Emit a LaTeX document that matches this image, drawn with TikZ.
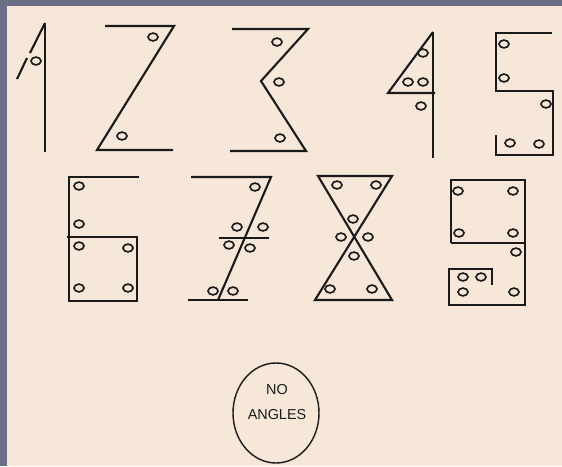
\documentclass[tikz,border=0pt]{standalone}
\usepackage{fontspec}
\setmainfont{Liberation Sans}
\usetikzlibrary{shapes.geometric}
\definecolor{cpaper}{HTML}{F6E7D9}
\definecolor{cframe}{HTML}{6A6E87}
\definecolor{cink}{HTML}{1A1A1A}
\tikzset{
  every picture/.style={line width=1.8pt, line join=miter},
  stroke/.style={draw=cink},
  hole/.style={draw=cink, line width=1.4pt},
  oval/.style={ellipse, draw=cink, line width=1.2pt, minimum width=2.58cm, minimum height=3.0cm, inner sep=0pt},
  caption/.style={font=\fontsize{12.3pt}{21pt}\selectfont, text=cink, align=center},
}
\newcommand{\holes}[1]{\foreach \p in {#1} \draw[hole] \p ellipse (5 and 3.9);}

\begin{document}
\begin{tikzpicture}[x=0.03cm, y=-0.03cm]
  % paper and frame
  \fill[cframe] (0,0) rectangle (562,466);
  \fill[cpaper] (7,6) rectangle (562,466);
  \useasboundingbox (0,0) rectangle (562,466);
  % 1
  \draw[stroke] (45,23) -- (45,152);
  \draw[stroke] (45,23) -- (30,53);
  \draw[stroke] (27,58) -- (17,79);
  \holes{(36,61)}
  % 2
  \draw[stroke] (105,26) -- (174,26) -- (97,150) -- (173,150);
  \holes{(153,37),(122,136)}
  % 3
  \draw[stroke] (232,29) -- (308,29) -- (261,81) -- (306,151) -- (230,151);
  \holes{(277,42),(279,82),(280,138)}
  % 4
  \draw[stroke] (433,32) -- (433,158);
  \draw[stroke] (433,32) -- (388,93) -- (435,93);
  \holes{(423,53),(408,82),(423,82),(421,106)}
  % 5
  \draw[stroke] (552,33) -- (496,33) -- (496,91) -- (553,91) -- (553,155) -- (496,155) -- (496,135);
  \holes{(504,44),(504,78),(546,104),(510,143),(539,144)}
  % 6
  \draw[stroke] (139,177) -- (69,177) -- (69,301) -- (137,301) -- (137,237) -- (67,237);
  \holes{(79,186),(79,224),(79,246),(128,248),(79,288),(128,288)}
  % 7
  \draw[stroke] (191,177) -- (271,177) -- (218,300);
  \draw[stroke] (188,300) -- (248,300);
  \draw[stroke] (219,238) -- (269,238);
  \holes{(255,187),(237,227),(263,227),(229,245),(250,248),(213,291),(233,291)}
  % 8
  \draw[stroke] (318,176) -- (392,176) -- (315,300) -- (392,300) -- cycle;
  \holes{(337,185),(376,185),(353,219),(341,237),(368,237),(354,256),(330,289),(372,289)}
  % 9
  \draw[stroke] (451,243) -- (451,180) -- (525,180) -- (525,305) -- (449,305) -- (449,269) -- (492,269) -- (492,285);
  \draw[stroke] (451,243) -- (525,243);
  \holes{(458,191),(513,191),(459,233),(513,233),(516,252),(463,277),(481,277),(463,292),(514,292)}
  % no angles
  \node[oval] (noangles) at (276,413) {};
  \node[caption] (noanglestext) at (277,402) {NO\\ANGLES};
\end{tikzpicture}
\end{document}
